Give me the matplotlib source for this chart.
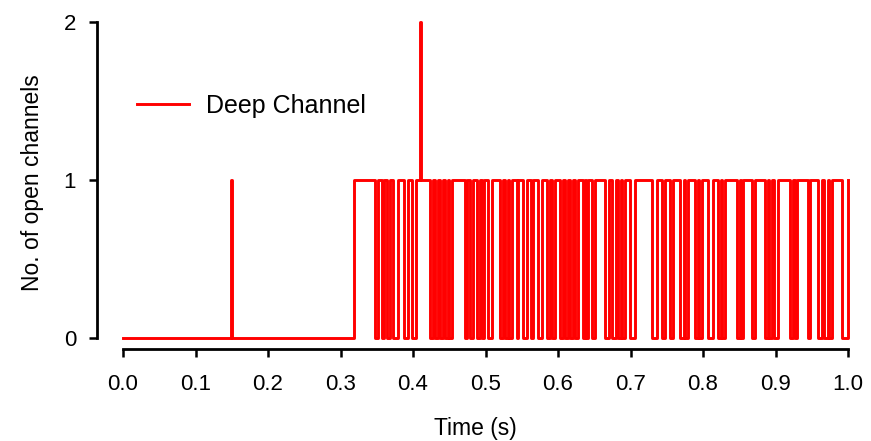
import matplotlib
matplotlib.use("Agg")
import matplotlib.pyplot as plt
import numpy as np

# ---- data ----
baseline_open_time = 0.1483      # brief single opening
baseline_close_time = 0.1498
burst_start_time = 0.3186        # channel opens, burst begins
double_open_start = 0.4103       # brief 2-channel event
double_open_end = 0.4115

closed_start = [0.3476, 0.3572, 0.3641, 0.3724, 0.3876, 0.3986, 0.4234, 0.4303,
                0.4372, 0.4441, 0.4497, 0.4717, 0.4786, 0.4883, 0.4952, 0.5034,
                0.5200, 0.5269, 0.5324, 0.5434, 0.5517, 0.5628, 0.5724, 0.5848,
                0.5917, 0.6028, 0.6097, 0.6166, 0.6234, 0.6345, 0.6386, 0.6469,
                0.6648, 0.6745, 0.6828, 0.6883, 0.6993, 0.7297, 0.7434, 0.7545,
                0.7683, 0.7752, 0.7890, 0.7945, 0.8069, 0.8207, 0.8262, 0.8469,
                0.8524, 0.8676, 0.8855, 0.8910, 0.8979, 0.9200, 0.9269, 0.9448,
                0.9586, 0.9669, 0.9738, 0.9917]
closed_end = [0.3517, 0.3600, 0.3683, 0.3793, 0.3931, 0.4041, 0.4276, 0.4345,
              0.4414, 0.4483, 0.4538, 0.4745, 0.4828, 0.4924, 0.4979, 0.5090,
              0.5241, 0.5310, 0.5366, 0.5448, 0.5572, 0.5655, 0.5779, 0.5890,
              0.5959, 0.6069, 0.6138, 0.6207, 0.6276, 0.6372, 0.6414, 0.6510,
              0.6703, 0.6800, 0.6869, 0.6924, 0.7062, 0.7366, 0.7476, 0.7586,
              0.7738, 0.7793, 0.7931, 0.7986, 0.8138, 0.8248, 0.8303, 0.8510,
              0.8552, 0.8717, 0.8897, 0.8952, 0.9034, 0.9241, 0.9297, 0.9476,
              0.9641, 0.9724, 0.9779, 1.0000]
end_time = 1.0

x_ticks = [0.0, 0.1, 0.2, 0.3, 0.4, 0.5, 0.6, 0.7, 0.8, 0.9, 1.0]
x_tick_labels = ["0.0", "0.1", "0.2", "0.3", "0.4", "0.5", "0.6", "0.7", "0.8", "0.9", "1.0"]
y_ticks = [0, 1, 2]
y_tick_labels = ["0", "1", "2"]
series_label = "Deep Channel"

assert len(closed_start) == len(closed_end)

# ---- build the step trace ----
events = [(0.0, 0), (baseline_open_time, 1), (baseline_close_time, 0),
          (burst_start_time, 1), (double_open_start, 2), (double_open_end, 1)]
for s, e in zip(closed_start, closed_end):
    events.append((s, 0))
    events.append((e, 1))
events.sort(key=lambda p: p[0])
t = [p[0] for p in events] + [end_time]
n = [p[1] for p in events] + [events[-1][1]]

# ---- figure ----
plt.rcParams['font.family'] = ['Liberation Sans', 'DejaVu Sans']
W, H = 871, 441
fig = plt.figure(figsize=(W / 100, H / 100), dpi=100)

px_x0, px_x1 = 123, 848      # data x=0 and x=1
px_y0, px_y2 = 338, 22       # data y=0 and y=2
ax_left_px, ax_right_px = 97, 853
ax_bottom_px, ax_top_px = 349, 16
ax = fig.add_axes([ax_left_px / W, 1 - ax_bottom_px / H,
                   (ax_right_px - ax_left_px) / W, (ax_bottom_px - ax_top_px) / H])
sx = 1.0 / (px_x1 - px_x0)
sy = 2.0 / (px_y0 - px_y2)
ax.set_xlim((ax_left_px - px_x0) * sx, 1.0 + (ax_right_px - px_x1) * sx)
ax.set_ylim(-(ax_bottom_px - px_y0) * sy, 2.0 + (px_y2 - ax_top_px) * sy)

ax.plot(t, n, drawstyle='steps-post', color='#ff0000', lw=2.1, label=series_label)

for side in ['top', 'right']:
    ax.spines[side].set_visible(False)
ax.spines['left'].set_bounds(0, 2)
ax.spines['bottom'].set_bounds(0, 1)
for side in ['left', 'bottom']:
    ax.spines[side].set_linewidth(2.0)
    ax.spines[side].set_color('black')

ax.set_xticks(x_ticks)
ax.set_xticklabels(x_tick_labels)
ax.set_yticks(y_ticks)
ax.set_yticklabels(y_tick_labels)
ax.tick_params(axis='both', direction='out', length=6, width=1.8, color='black',
               labelsize=16)
ax.tick_params(axis='x', pad=12)
ax.tick_params(axis='y', pad=9)

ax.set_xlabel("Time (s)", fontsize=16.5, labelpad=16)
ax.set_ylabel("No. of open channels", fontsize=16.5, labelpad=14)

leg = ax.legend(loc='center left', bbox_to_anchor=(0.0193, 1.47),
                bbox_transform=ax.transData, frameon=False, fontsize=18,
                handlelength=2.1, handletextpad=0.68, borderpad=0, borderaxespad=0)

fig.savefig("out.png", dpi=100)
